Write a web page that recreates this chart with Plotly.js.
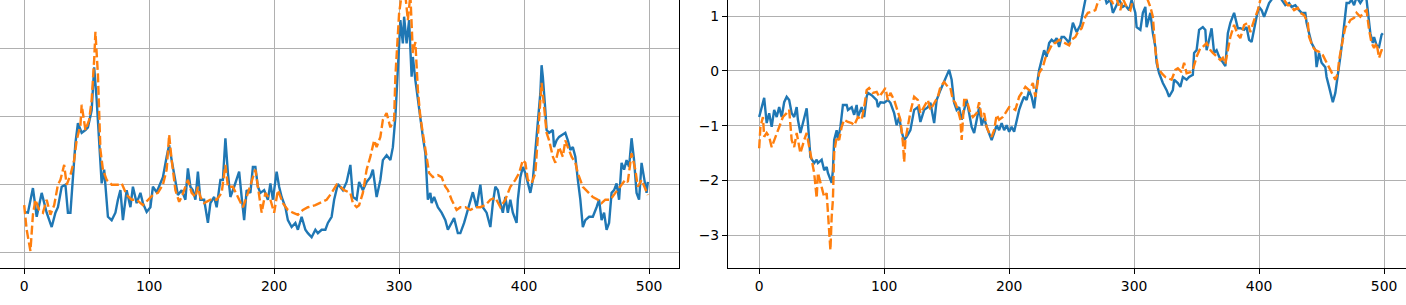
<!DOCTYPE html>
<html>
<head>
<meta charset="utf-8">
<script src="https://cdn.plot.ly/plotly-3.0.1.min.js"></script>
<style>
html,body{margin:0;padding:0;background:#fff;overflow:hidden;width:1406px;height:305px;}
#chart{position:absolute;left:-67px;top:-103px;width:1501px;height:411px;}
</style>
</head>
<body>
<div id="chart"></div>
<script>
// Left panel, solid (blue) series
const leftBlueX = [0,3,7,10,14,18,22,25,27,30,33,35,37,39,41,43,46,49,51,54,56,58,60,62,64,65,67,70,73,75,77,79,82,85,87,90,93,95,98,101,103,106,109,111,114,116,118,121,123,126,129,131,133,135,137,139,141,144,147,149,152,154,157,159,161,163,165,168,172,174,176,178,181,183,185,187,189,192,195,197,199,202,204,206,209,211,214,217,219,222,225,227,230,233,235,238,241,243,246,248,251,255,258,261,263,266,268,271,274,277,279,282,285,287,290,293,295,297,299,301,303,304,306,308,310,311,313,315,317,319,321,323,325,326,328,331,334,337,339,342,344,347,349,352,355,357,359,362,365,367,370,373,375,377,379,381,383,385,387,389,391,394,395,397,399,401,403,405,407,409,411,413,414,415,417,418,420,423,424,426,428,431,433,435,437,439,441,443,445,447,449,452,455,458,460,462,464,466,468,470,472,474,476,478,480,482,484,486,488,490,492,494,496,498,499];
const leftBlueY = [1.60,1.59,1.95,1.53,1.88,1.59,1.38,1.59,1.67,1.97,2.00,1.59,1.59,2.07,2.61,2.90,2.76,2.80,2.84,3.09,3.72,3.24,2.55,2.02,2.22,1.97,1.53,1.48,1.59,1.78,1.92,1.48,1.92,1.67,1.97,1.73,1.88,1.73,1.60,1.67,1.97,1.89,2.02,2.11,2.41,2.58,2.36,2.07,1.85,1.92,1.78,2.24,1.97,1.92,1.78,2.19,1.78,1.78,1.44,1.73,1.82,1.67,2.07,2.07,2.68,2.17,1.82,1.97,2.19,1.82,1.48,1.92,1.88,2.26,2.26,1.97,1.88,1.92,1.78,2.02,1.78,2.19,1.97,1.82,1.67,1.48,1.38,1.44,1.34,1.53,1.34,1.29,1.23,1.34,1.29,1.34,1.34,1.44,1.53,1.78,2.01,1.92,2.04,2.29,1.82,1.78,2.04,1.92,2.04,2.11,2.22,1.82,2.07,2.36,2.43,2.36,2.55,2.99,3.72,4.41,4.07,4.46,4.07,4.41,3.58,3.87,3.53,3.24,2.95,2.70,2.46,1.78,1.88,1.73,1.82,1.67,1.59,1.48,1.34,1.44,1.51,1.29,1.29,1.44,1.63,1.78,1.89,1.67,2.00,1.67,1.59,1.38,1.73,1.97,1.92,1.73,1.59,1.82,1.59,1.78,1.59,1.44,1.78,2.11,2.26,2.17,2.02,1.88,2.07,2.51,2.99,3.34,3.75,3.58,3.09,2.80,2.76,2.80,2.55,2.65,2.70,2.73,2.76,2.65,2.51,2.55,2.41,2.07,1.78,1.38,1.48,1.53,1.53,1.67,1.78,1.48,1.59,1.34,1.44,1.88,1.92,2.02,1.78,2.32,2.22,2.36,2.26,2.68,2.36,1.88,1.78,2.32,2.07,1.88,2.04];

// Left panel, dashed (orange) series
const leftOrangeX = [0,2,5,7,9,12,15,18,21,24,27,29,32,34,37,40,42,45,46,49,52,54,56,57,59,61,63,66,70,75,78,82,86,90,95,99,103,107,111,114,116,118,121,124,126,131,134,137,139,141,144,149,154,158,161,163,167,171,175,178,182,185,187,190,193,197,200,203,207,211,215,219,223,227,233,238,242,246,250,253,256,261,263,266,268,271,274,277,280,282,285,287,290,293,296,297,300,302,303,305,307,309,311,313,315,317,319,322,324,327,331,334,337,339,342,346,349,353,357,361,365,369,373,377,381,385,389,393,396,399,401,403,406,409,411,413,414,416,418,420,423,425,428,431,433,435,438,441,443,447,451,455,459,462,465,469,473,477,481,483,486,489,491,494,497,499];
const leftOrangeY = [1.70,1.34,1.03,1.56,1.78,1.63,1.59,1.78,1.56,1.70,2.00,2.07,2.29,2.00,2.14,2.36,2.65,2.87,3.17,2.80,2.95,3.24,3.83,4.24,3.61,2.51,2.22,2.07,2.00,2.00,2.02,1.85,1.78,1.78,1.70,1.78,1.85,1.88,2.00,2.22,2.73,2.36,1.92,1.75,1.82,2.07,1.88,1.82,1.97,1.82,1.73,1.78,1.78,1.88,2.29,1.97,1.97,1.82,1.67,1.82,2.07,2.22,1.97,1.59,1.88,1.78,1.59,1.92,1.73,1.63,1.59,1.56,1.63,1.67,1.70,1.75,1.78,1.88,2.00,1.97,1.92,1.88,1.73,1.67,1.70,1.88,2.22,2.41,2.65,2.55,2.70,2.95,3.05,2.84,2.95,3.58,4.51,4.78,4.85,4.78,4.41,4.78,3.93,4.09,3.39,2.99,2.76,2.36,2.17,2.11,2.14,2.11,1.97,1.92,1.78,1.63,1.67,1.67,1.63,1.67,1.67,1.70,1.78,1.81,1.67,1.78,1.97,2.07,2.17,2.36,2.32,2.07,2.02,2.17,2.70,3.24,3.49,3.14,2.76,2.65,2.41,2.32,2.55,2.41,2.65,2.55,2.41,2.32,2.17,1.97,1.89,1.82,1.78,1.73,1.78,1.78,1.88,1.97,2.07,2.04,2.46,2.22,1.97,2.07,1.92,1.85];

// Right panel, solid (blue) series
const rightBlueX = [0,2,4,6,8,10,12,14,16,18,20,22,24,26,28,30,31,33,36,38,39,41,44,46,47,50,52,54,55,58,59,60,62,63,65,67,70,71,74,76,78,79,82,84,86,87,90,92,94,95,97,100,103,105,108,110,112,114,116,118,121,124,127,129,132,135,137,140,142,145,148,149,152,154,156,158,160,162,164,166,168,170,172,174,176,178,180,182,184,186,188,190,192,194,196,198,200,202,204,206,208,210,212,214,216,218,220,222,224,226,228,230,232,234,236,238,240,242,244,246,248,251,254,257,259,261,264,268,272,276,278,281,283,285,288,291,293,296,298,301,302,305,307,309,310,313,315,317,318,320,323,326,328,331,332,335,337,339,342,344,347,348,350,352,355,357,358,360,362,364,366,368,371,373,375,377,380,383,385,388,390,392,394,396,398,400,402,404,406,408,410,413,416,418,421,424,426,429,432,434,437,438,440,442,445,446,448,450,453,454,456,458,459,461,463,465,467,469,470,472,474,476,478,481,484,486,487,489,491,492,494,496,498,499];
const rightBlueY = [-0.84,-0.68,-0.49,-0.95,-0.77,-1.02,-0.71,-0.84,-0.66,-0.84,-0.57,-0.47,-0.53,-0.77,-0.84,-0.66,-0.89,-1.13,-0.84,-0.68,-0.95,-1.57,-1.68,-1.62,-1.68,-1.62,-1.81,-1.75,-1.86,-2.04,-1.81,-1.26,-1.08,-1.26,-1.02,-0.62,-0.62,-0.71,-0.66,-0.80,-0.62,-0.84,-0.66,-0.84,-0.47,-0.40,-0.44,-0.49,-0.53,-0.66,-0.57,-0.58,-0.53,-0.58,-0.77,-0.99,-0.84,-1.11,-1.26,-1.20,-1.08,-0.71,-0.66,-0.93,-0.71,-0.66,-0.58,-0.95,-0.53,-0.35,-0.20,-0.16,0.02,-0.16,-0.58,-0.71,-0.66,-0.89,-0.71,-0.53,-0.77,-1.02,-1.13,-0.89,-0.66,-0.99,-0.86,-1.02,-1.13,-1.26,-1.13,-0.99,-1.08,-0.95,-1.08,-0.99,-1.11,-1.02,-1.11,-0.89,-0.71,-0.58,-0.47,-0.53,-0.35,-0.47,-0.68,-0.29,0.02,0.20,0.38,0.26,0.51,0.57,0.53,0.60,0.44,0.62,0.62,0.57,0.51,0.88,0.71,0.84,1.06,1.30,1.45,1.55,1.50,1.40,1.24,1.30,1.06,1.17,1.30,1.17,1.20,1.11,1.30,1.06,0.80,0.75,1.06,1.17,0.80,1.06,0.69,0.44,0.15,-0.04,-0.22,-0.35,-0.47,-0.35,-0.16,-0.22,-0.29,-0.11,-0.16,-0.11,-0.07,0.33,0.38,0.75,0.80,0.75,0.38,0.57,0.78,0.33,0.38,0.26,0.16,0.09,0.69,0.88,1.06,0.78,0.78,0.75,0.80,0.57,0.53,0.80,0.99,1.17,1.11,0.99,1.11,1.24,1.30,1.45,1.40,1.30,1.20,1.24,1.17,1.20,1.11,1.06,1.06,0.88,0.69,0.51,0.38,0.07,0.33,0.15,0.07,-0.11,-0.29,-0.49,-0.57,-0.40,-0.11,0.26,0.62,0.99,1.24,1.24,1.30,1.20,1.35,1.24,1.35,1.30,1.06,0.69,0.51,0.62,0.47,0.44,0.66,0.69];

// Right panel, dashed (orange) series
const rightOrangeX = [0,1,3,4,6,8,10,12,15,17,19,22,24,26,28,30,33,36,38,39,42,44,46,47,50,52,54,55,57,58,59,60,62,64,66,68,71,74,76,79,82,84,86,88,91,94,96,99,101,103,105,108,111,113,115,116,117,119,121,124,127,129,132,135,137,140,143,145,148,151,153,155,157,159,161,162,164,166,169,171,174,176,178,180,182,184,186,188,190,192,195,197,200,203,205,208,211,213,216,219,221,224,227,229,232,235,237,240,243,245,248,250,253,255,258,261,263,266,269,271,274,278,283,286,289,291,294,297,300,305,310,313,315,316,317,319,322,325,327,330,333,335,338,340,342,345,347,350,353,355,358,361,363,366,369,371,373,375,377,380,383,385,388,391,393,396,399,401,405,410,415,420,423,425,428,431,433,436,439,440,443,445,448,451,453,456,459,461,463,464,467,469,471,473,476,478,481,484,486,488,490,492,494,496,498,499];
const rightOrangeY = [-1.41,-1.02,-0.84,-1.20,-1.13,-1.20,-1.39,-1.26,-1.08,-0.95,-0.84,-0.77,-0.71,-1.26,-1.39,-1.13,-1.50,-1.26,-1.13,-1.26,-1.62,-1.86,-2.32,-1.86,-2.12,-2.30,-2.23,-2.66,-3.27,-2.66,-2.35,-1.50,-1.20,-1.26,-1.02,-0.89,-0.93,-0.95,-0.99,-0.84,-0.89,-0.66,-0.35,-0.31,-0.40,-0.38,-0.47,-0.38,-0.31,-0.53,-0.40,-0.53,-0.77,-0.89,-1.31,-1.66,-1.26,-1.02,-0.75,-0.47,-0.53,-0.77,-0.66,-0.53,-0.71,-0.58,-0.47,-0.29,-0.20,-0.29,-0.31,-0.53,-0.58,-0.71,-0.89,-1.26,-0.53,-0.53,-0.77,-0.84,-0.77,-0.57,-0.84,-0.77,-1.02,-1.13,-1.20,-1.08,-0.80,-0.89,-0.84,-0.77,-0.66,-0.68,-0.71,-0.47,-0.35,-0.29,-0.35,-0.22,-0.47,-0.04,0.07,0.24,0.38,0.51,0.51,0.57,0.53,0.51,0.47,0.57,0.62,0.71,0.78,0.99,1.06,1.08,1.11,1.26,1.35,1.40,1.24,1.32,1.11,1.32,1.17,1.11,1.40,1.50,1.35,1.17,0.99,0.69,0.38,0.07,-0.04,-0.11,-0.13,-0.16,0.02,0.05,-0.02,0.15,-0.04,-0.02,0.02,0.26,0.42,0.44,0.51,0.38,0.33,0.26,0.20,0.24,0.13,0.38,0.62,0.84,0.66,0.60,0.84,0.88,0.71,0.93,1.11,1.30,1.45,1.50,1.45,1.30,1.20,1.20,1.11,1.15,1.06,1.02,0.88,0.62,0.44,0.38,0.35,0.29,0.20,0.07,-0.07,-0.16,-0.04,0.20,0.57,0.80,0.84,0.93,0.97,1.06,0.99,1.08,1.11,0.75,0.51,0.42,0.51,0.24,0.38,0.38];

const xTicks = [0,100,200,300,400,500];
const rightYTicks = [-3,-2,-1,0,1];
const leftYTicks = [1,2,3,4];

const blue = '#1f77b4', orange = '#ff7f0e';
const solid = {color: blue, width: 2.4};
const dashed = {color: orange, width: 2.4, dash: '9px,3.5px'};

const traces = [
  {x: leftBlueX, y: leftBlueY, type: 'scatter', mode: 'lines', line: solid, xaxis: 'x', yaxis: 'y', hoverinfo: 'skip'},
  {x: leftOrangeX, y: leftOrangeY, type: 'scatter', mode: 'lines', line: dashed, xaxis: 'x', yaxis: 'y', hoverinfo: 'skip'},
  {x: rightBlueX, y: rightBlueY, type: 'scatter', mode: 'lines', line: solid, xaxis: 'x2', yaxis: 'y2', hoverinfo: 'skip'},
  {x: rightOrangeX, y: rightOrangeY, type: 'scatter', mode: 'lines', line: dashed, xaxis: 'x2', yaxis: 'y2', hoverinfo: 'skip'}
];

const axisCommon = {
  showline: true, mirror: true, linecolor: '#000', linewidth: 1,
  showgrid: true, gridcolor: '#b0b0b0', gridwidth: 1,
  zeroline: false, ticks: 'outside', ticklen: 5, tickwidth: 1, tickcolor: '#000',
  tickfont: {family: 'DejaVu Sans', size: 13.9, color: '#000'}
};

const layout = {
  width: 1501, height: 411,
  margin: {l: 60, r: 20, t: 20, b: 40},
  paper_bgcolor: '#fff', plot_bgcolor: '#fff',
  showlegend: false,
  xaxis: Object.assign({}, axisCommon, {domain: [0, 0.48276], range: [-24.95, 523.95], tickvals: xTicks, anchor: 'y'}),
  yaxis: Object.assign({}, axisCommon, {domain: [0, 1], range: [0.78, 5.92], tickvals: leftYTicks, anchor: 'x', showticklabels: false}),
  xaxis2: Object.assign({}, axisCommon, {domain: [0.51724, 1], range: [-24.95, 523.95], tickvals: xTicks, anchor: 'y2'}),
  yaxis2: Object.assign({}, axisCommon, {domain: [0, 1], range: [-3.595, 2.81], tickvals: rightYTicks, anchor: 'x2'})
};

Plotly.newPlot('chart', traces, layout, {displayModeBar: false, staticPlot: true});
</script>
</body>
</html>
